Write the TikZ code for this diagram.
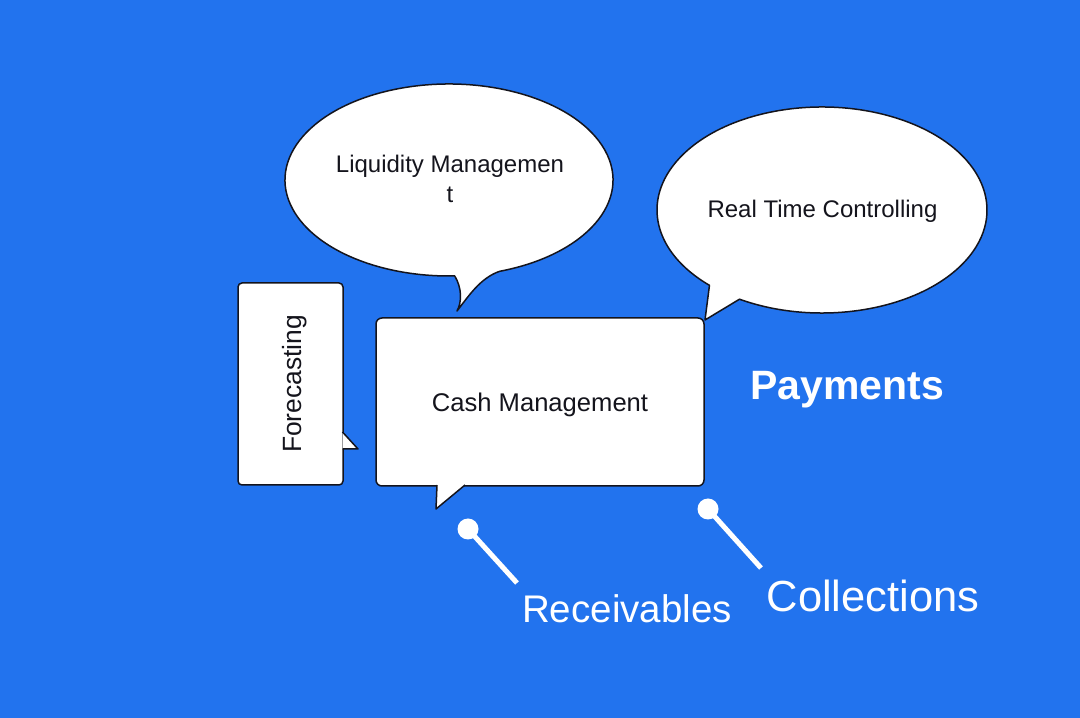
\documentclass[tikz,border=0pt]{standalone}
\usepackage{fontspec}
\setmainfont{Liberation Sans}
\usetikzlibrary{calc}
\definecolor{bg}{RGB}{34,115,238}
\definecolor{ink}{RGB}{20,20,28}
\begin{document}
\begin{tikzpicture}[x=1pt,y=1pt,
  bubble/.style={draw=ink, fill=white, line width=1.5pt, line join=round},
  callbox/.style={draw=ink, fill=white, line width=1.5pt, inner sep=0pt, outer sep=0pt},
  txt/.style={text=ink, inner sep=0pt, anchor=base},
  wtxt/.style={text=white, inner sep=0pt, anchor=base},
  pindot/.style={circle, fill=white, minimum size=21pt, inner sep=0pt},
  pinline/.style={draw=white, line width=5pt}
]
\fill[bg] (0,0) rectangle (1080,718);
\useasboundingbox (0,0) rectangle (1080,718);

% Liquidity Management bubble
\filldraw[bubble] ($(449,538)+(-72:164 and 96)$)
  arc[start angle=-72,end angle=272,x radius=164pt,y radius=96pt]
  .. controls (462,430) and (462,416) .. (457,407)
  .. controls (468,421) and (480,440) .. ($(449,538)+(-72:164 and 96)$) -- cycle;

% Real Time Controlling bubble
\filldraw[bubble] ($(822,508)+(-120:165 and 103)$)
  arc[start angle=-120,end angle=227,x radius=165pt,y radius=103pt]
  -- (705,398) -- cycle;

% Forecasting callout
\node[callbox, rounded corners=4pt, minimum width=105pt, minimum height=202pt] (fcbox) at (290.5,334) {};
\filldraw[bubble] (342.5,286) -- (358,269) -- (342.5,269);

% Cash Management callout
\node[callbox, rounded corners=6pt, minimum width=328pt, minimum height=168pt] (cashbox) at (540,316) {};
\filldraw[bubble] (437,233) -- (436,209) -- (465,233);

% texts
\node[txt, font=\fontsize{26.4}{30}\selectfont, rotate=90] (fc) at (301,334) {Forecasting};
\node[txt, font=\fontsize{25.6}{30}\selectfont] (cash) at (540,306) {Cash Management};
\node[txt, font=\fontsize{24}{30}\selectfont] (liq) at (450,545) {Liquidity Managemen};
\node[txt, font=\fontsize{24}{30}\selectfont] (liqt) at (450,515) {t};
\node[txt, font=\fontsize{24}{30}\selectfont] (rtc) at (822.5,500) {Real Time Controlling};
\node[wtxt, font=\bfseries\fontsize{41}{48}\selectfont] (pay) at (847,318) {Payments};
\node[wtxt, font=\fontsize{38.5}{44}\selectfont] (rec) at (627,95) {Receivables};
\node[wtxt, font=\fontsize{43.5}{50}\selectfont] (col) at (873,106) {Collections};

% pins
\coordinate (e1) at (517,135);
\coordinate (e2) at (761,150);
\node[pindot] (p1) at (468,189) {};
\node[pindot] (p2) at (708,209) {};
\draw[pinline] (p1.center) -- (e1);
\draw[pinline] (p2.center) -- (e2);
\end{tikzpicture}
\end{document}
